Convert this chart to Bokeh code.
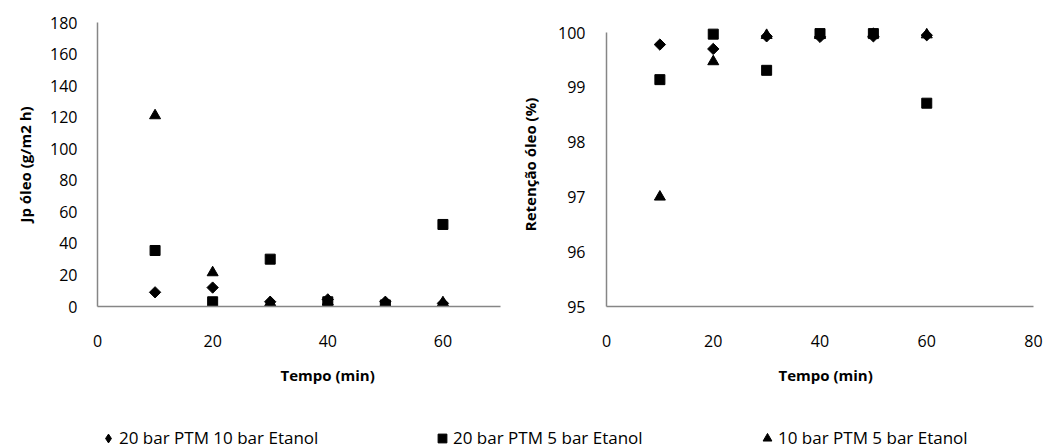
import math
from bokeh.plotting import figure
from bokeh.layouts import column, row
from bokeh.models import FixedTicker, Range1d, Legend, LegendItem, ColumnDataSource, Title
from bokeh.embed import file_html
from bokeh.resources import INLINE

# ---- data ----
tempo = [10, 20, 30, 40, 50, 60]
series_names = ["20 bar PTM 10 bar Etanol", "20 bar PTM 5 bar Etanol", "10 bar PTM 5 bar Etanol"]

jp_d = [9, 12, 3, 4.5, 3, 2]
jp_s = [35.5, 3, 30, 3, 1, 52]
jp_t = [121, 21.5, 2.5, 3, 2, 2.5]

ret_d = [99.78, 99.70, 99.93, 99.92, 99.93, 99.95]
ret_s = [99.14, 99.97, 99.31, 99.98, 99.98, 98.71]
ret_t = [97.0, 99.47, 99.95, 99.95, 99.97, 99.96]

left_yticks = [0, 20, 40, 60, 80, 100, 120, 140, 160, 180]
left_xticks = [0, 20, 40, 60]
right_yticks = [95, 96, 97, 98, 99, 100]
right_xticks = [0, 20, 40, 60, 80]

FONT = "Open Sans"
AXIS_COLOR = "#868686"

# marker specs: (marker, size, angle)
MARKS = [("square", 8, math.pi / 4), ("square", 10, 0.0), ("triangle", 11, 0.0)]
LEG_MARKS = [("diamond", 12, 0.0), ("square", 10, 0.0), ("triangle", 11, 0.0)]


def style(p, xticks, yticks, ylabel, ylab_standoff, ytick_standoff, title_offset):
    p.grid.visible = False
    p.outline_line_color = None
    p.background_fill_color = "white"
    p.border_fill_color = "white"
    for ax in (p.xaxis[0], p.yaxis[0]):
        ax.axis_line_color = AXIS_COLOR
        ax.axis_line_width = 1.5
        ax.major_tick_line_color = None
        ax.minor_tick_line_color = None
        ax.major_tick_out = 0
        ax.major_tick_in = 0
        ax.major_label_text_font = FONT
        ax.major_label_text_font_size = "16px"
        ax.major_label_text_color = "black"
        ax.axis_label_text_font = FONT
        ax.axis_label_text_font_size = "15px"
        ax.axis_label_text_font_style = "bold"
        ax.axis_label_text_color = "black"
    p.xaxis[0].ticker = FixedTicker(ticks=xticks)
    p.yaxis[0].ticker = FixedTicker(ticks=yticks)
    p.yaxis[0].axis_label = ylabel
    p.xaxis[0].major_label_standoff = 28
    p.yaxis[0].major_label_standoff = ytick_standoff
    p.yaxis[0].axis_label_standoff = ylab_standoff
    t = Title(text="Tempo (min)", align="left", offset=title_offset, standoff=26,
              text_font=FONT, text_font_size="15px", text_font_style="bold", text_color="black")
    p.add_layout(t, "below")


# ---- left plot ----
p1 = figure(width=510, height=406, output_backend="svg", toolbar_location=None,
            x_range=Range1d(0, 70), y_range=Range1d(0, 180),
            min_border_left=97, min_border_right=10, min_border_top=22, min_border_bottom=100)
style(p1, left_xticks, left_yticks, "Jp óleo (g/m2 h)", 12, 20, 183)
for ys, (m, s, a) in zip([jp_d, jp_s, jp_t], MARKS):
    p1.scatter(tempo, ys, marker=m, size=s, angle=a, fill_color="black", line_color="black")

# ---- right plot ----
# frame shares top/bottom with left plot; 100 sits 10px below the frame top
p2 = figure(width=545, height=406, output_backend="svg", toolbar_location=None,
            x_range=Range1d(0, 80), y_range=Range1d(95, 100.1825),
            min_border_left=96, min_border_right=22, min_border_top=22, min_border_bottom=100)
style(p2, right_xticks, right_yticks, "Retenção óleo (%)", 15, 21, 172)
p2.yaxis[0].bounds = (95, 100)
for ys, (m, s, a) in zip([ret_d, ret_s, ret_t], MARKS):
    p2.scatter(tempo, ys, marker=m, size=s, angle=a, fill_color="black", line_color="black")

# ---- legend strip ----
pl = figure(width=1055, height=42, output_backend="svg", toolbar_location=None,
            x_range=Range1d(0, 1), y_range=Range1d(0, 1),
            min_border_left=0, min_border_right=0, min_border_top=0, min_border_bottom=0)
pl.axis.visible = False
pl.grid.visible = False
pl.outline_line_color = None
legend_x = [97, 431, 756]
for name, (m, s, a), lx in zip(series_names, LEG_MARKS, legend_x):
    src = ColumnDataSource(data=dict(x=[-5], y=[-5]))
    r = pl.scatter("x", "y", source=src, marker=m, size=s, angle=a, fill_color="black", line_color="black")
    lg = Legend(items=[LegendItem(label=name, renderers=[r])], location=(lx, -1),
                glyph_width=22, glyph_height=22, label_standoff=0, padding=0, margin=0,
                border_line_color=None, background_fill_alpha=0,
                label_text_font=FONT, label_text_font_size="17px", label_text_color="black")
    pl.add_layout(lg)

layout = column(row(p1, p2), pl)

open("out.html", "w").write(file_html(layout, INLINE))
